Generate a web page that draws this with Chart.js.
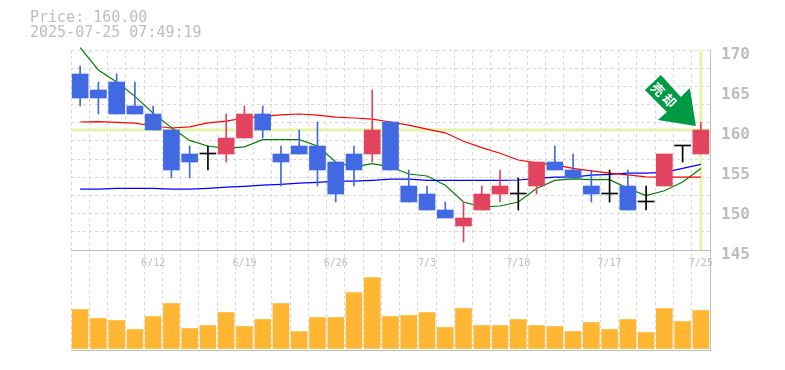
<!DOCTYPE html>
<html lang="ja">
<head>
<meta charset="UTF-8">
<title>Price chart</title>
<script src="https://cdn.jsdelivr.net/npm/chart.js"></script>
<style>
  html, body { margin: 0; padding: 0; background: #fff; }
  #wrap { position: relative; width: 785px; height: 370px; }
  #head { position: absolute; left: 30px; top: 10px; color: #bdbdbd; font: 15px/15px "DejaVu Sans Mono", monospace; white-space: pre; }
</style>
</head>
<body>
<div id="wrap">
  <canvas id="priceChart" width="785" height="370"></canvas>
  <div id="head">Price: 160.00
2025-07-25 07:49:19</div>
</div>
<script>
const dates = ['6/6','6/9','6/10','6/11','6/12','6/13','6/16','6/17','6/18','6/19','6/20','6/23','6/24','6/25','6/26','6/27','6/30','7/1','7/2','7/3','7/4','7/7','7/8','7/9','7/10','7/11','7/14','7/15','7/16','7/17','7/18','7/22','7/23','7/24','7/25'];
const shownDates = ['6/12','6/19','6/26','7/3','7/10','7/17','7/25'];
const priceTicks = [145, 150, 155, 160, 165, 170];

const opens  = [167,165,166,163,162,160,157,157,157,159,162,157,158,158,156,157,157,161,153,152,150,148,150,152,152,153,156,155,153,152,153,151,153,158,157];
const closes = [164,164,162,162,160,155,156,157,159,162,160,156,157,155,152,155,160,155,151,150,149,149,152,153,152,156,155,154,152,152,150,151,157,158,160];
const highs  = [168,166,167,166,163,160,158,158,162,163,163,158,160,161,156,158,165,161,155,153,151,151,153,155,154,156,158,157,155,155,155,153,157,158,161];
const lows   = [163,162,162,162,160,154,154,155,156,159,159,153,157,153,151,153,156,155,151,150,149,146,150,151,150,152,155,154,151,151,150,150,153,156,157];
const volumes = [39,30,28,19,32,45,20,23,36,22,29,45,17,31,31,56,71,32,33,36,21,40,23,23,29,23,22,17,26,19,29,16,40,27,38];

const maShort = [170.3,167.5,166,164.2,162.1,160.3,158.7,158,157.7,157.9,158.8,158.8,158.8,158,156,155.4,155.8,155.4,154.5,154.25,153.1,151,150.4,150.5,151,152.7,153.7,153.9,153.8,153.8,152.7,151.8,152.4,153.5,155.2];
const maMid = [161,161.05,160.95,160.85,160.5,160.25,160.4,160.9,161.1,161.5,161.7,161.9,162,161.85,161.6,161.5,161.35,161,160.6,160.1,159.65,158.6,157.8,157.1,156.25,155.9,155.65,155.2,154.9,154.6,154.4,154.15,154.1,154.1,154.1];
const maLong = [152.6,152.6,152.7,152.7,152.7,152.6,152.6,152.7,152.85,152.95,153.1,153.2,153.35,153.45,153.6,153.6,153.7,153.85,153.85,153.7,153.7,153.7,153.7,153.7,153.75,153.95,154.1,154.1,154.35,154.45,154.6,154.6,154.7,155.2,155.7];

const lastPrice = 160;

const upColor = '#e2445f';
const downColor = '#4169e1';
const dojiColor = '#000000';
const gridColor = '#d8d8d8';
const frameColor = '#c0c0c0';
const highlight = '#e4f5ab';

function candleColor(i) {
    if (opens[i] === closes[i]) return dojiColor;
    return closes[i] > opens[i] ? upColor : downColor;
}

// ローソク足の本体と髭はフローティングバーで描く
const bodies = dates.map((d, i) => [opens[i], closes[i]]);
const wicks = dates.map((d, i) => [lows[i], highs[i]]);
const colors = dates.map((d, i) => candleColor(i));

function lineSet(data, color) {
    return { type: 'line', yAxisID: 'yPrice', data: data, borderColor: color, borderWidth: 1.2, pointRadius: 0, tension: 0, clip: false, order: 3 };
}

const highlightPlugin = {
    id: 'highlight',
    beforeDatasetsDraw(chart) {
        const { ctx, chartArea, scales } = chart;
        const py = scales.yPrice.getPixelForValue(lastPrice);
        const px = scales.x.getPixelForValue(dates.length - 1);
        ctx.save();
        ctx.strokeStyle = highlight;
        ctx.lineWidth = 3;
        ctx.beginPath();
        ctx.moveTo(chartArea.left, py);
        ctx.lineTo(chartArea.right, py);
        ctx.moveTo(px, scales.yPrice.getPixelForValue(170));
        ctx.lineTo(px, scales.yPrice.getPixelForValue(145));
        ctx.stroke();
        ctx.restore();
    },
    afterDatasetsDraw(chart) {
        // 最新足を指す矢印
        const { ctx, scales } = chart;
        const tx = scales.x.getPixelForValue(dates.length - 1) - 5;
        const ty = scales.yPrice.getPixelForValue(lastPrice) - 4;
        ctx.save();
        ctx.translate(tx, ty);
        ctx.fillStyle = '#009944';
        ctx.beginPath();
        ctx.moveTo(-35, -51);
        ctx.lineTo(-51, -36);
        ctx.lineTo(-29, -14);
        ctx.lineTo(-38, -6);
        ctx.lineTo(0, 0);
        ctx.lineTo(-6, -38);
        ctx.lineTo(-15, -29);
        ctx.closePath();
        ctx.fill();
        ctx.translate(-31, -30);
        ctx.rotate(Math.PI / 4);
        ctx.fillStyle = '#ffffff';
        ctx.font = 'bold 13px "Noto Sans CJK JP"';
        ctx.letterSpacing = '3px';
        ctx.textAlign = 'center';
        ctx.textBaseline = 'middle';
        ctx.fillText('売却', 0, 0);
        ctx.restore();
    }
};

new Chart(document.getElementById('priceChart').getContext('2d'), {
    type: 'bar',
    plugins: [highlightPlugin],
    data: {
        labels: dates,
        datasets: [
            lineSet(maMid, '#ff0000'),
            lineSet(maLong, '#0000ff'),
            lineSet(maShort, '#008000'),
            { yAxisID: 'yPrice', data: wicks, backgroundColor: colors, barThickness: 1, grouped: false, order: 2 },
            { yAxisID: 'yPrice', data: bodies, backgroundColor: colors, barThickness: 16, grouped: false, minBarLength: 1, order: 1 },
            { yAxisID: 'yVol', data: volumes, backgroundColor: '#ffb733', barThickness: 16, grouped: false, order: 1 }
        ]
    },
    options: {
        responsive: false,
        animation: false,
        layout: { padding: { left: 71, top: 50, right: 0, bottom: 20 } },
        plugins: { legend: { display: false }, tooltip: { enabled: false } },
        scales: {
            x: {
                position: { yPrice: 145 },
                offset: true,
                grid: { color: gridColor, drawTicks: false },
                border: { display: false, dash: [3, 3] },
                ticks: {
                    autoSkip: false, maxRotation: 0, padding: 7,
                    color: '#bdbdbd', font: { family: '"DejaVu Sans Mono"', size: 10 },
                    callback(value) {
                        const label = this.getLabelForValue(value);
                        return shownDates.includes(label) ? label : '';
                    }
                },
                afterFit(scale) { scale.height = 0; }
            },
            // 価格軸は下の出来高枠まで伸ばして 1円=8px にする
            yPrice: {
                position: 'right',
                min: 132.5,
                max: 170,
                grid: { display: false },
                border: { display: true, color: frameColor, width: 1 },
                afterBuildTicks(scale) { scale.ticks = priceTicks.map(v => ({ value: v })); },
                ticks: {
                    autoSkip: false, padding: 3, labelOffset: 5,
                    color: '#bdbdbd', font: { family: '"DejaVu Sans Mono"', size: 16, weight: 'bold' }
                },
                afterFit(scale) { scale.width = 75; }
            },
            yGrid: {
                display: true,
                position: 'right',
                min: 0,
                max: 16.5,
                afterBuildTicks(scale) {
                    scale.ticks = [0, 5.5, 6.5, 7.5, 8.5, 9.5, 10.5, 11.5, 12.5, 13.5, 14.5, 15.5, 16.5].map(v => ({ value: v }));
                },
                grid: {
                    drawTicks: false,
                    color: ctx => (ctx.tick.value === 0 || ctx.tick.value === 5.5) ? frameColor : gridColor
                },
                border: { display: false, dash: ctx => (ctx.tick.value === 0 || ctx.tick.value === 5.5) ? [] : [3, 3] },
                ticks: { display: false },
                afterFit(scale) { scale.width = 0; }
            },
            yVol: { display: false, min: -1.5, max: 298.5 }
        }
    }
});
</script>
</body>
</html>
